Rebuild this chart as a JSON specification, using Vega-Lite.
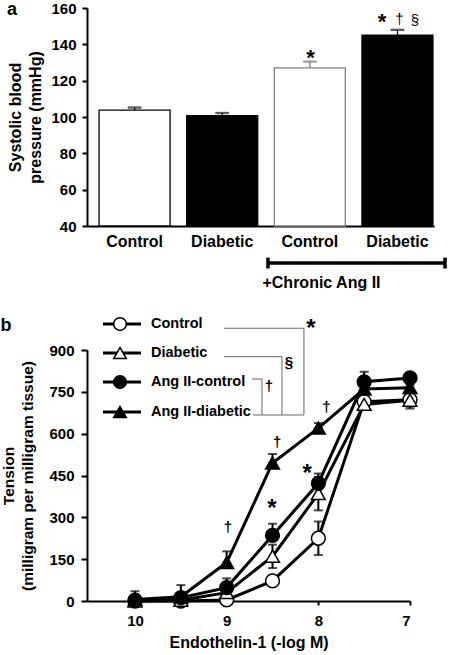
{
  "$schema": "https://vega.github.io/schema/vega-lite/v6.json",
  "padding": {"left": 0, "top": 0, "right": 2, "bottom": 2},
  "bounds": "flush",
  "spacing": 124,
  "config": {
    "font": "Liberation Sans",
    "view": {"stroke": null},
    "axis": {"domainColor": "black", "tickColor": "black", "labelColor": "black", "titleColor": "black", "grid": false, "labelFontWeight": "bold", "titleFontWeight": "bold", "domainWidth": 2, "tickWidth": 2, "labelOverlap": false}
  },
  "datasets": {
    "bars": [
      {"group": "Control", "treat": "Control", "value": 103.8, "hi": 105.2},
      {"group": "Diabetic", "treat": "Diabetic", "value": 100.8, "hi": 102.2},
      {"group": "Ang II Control", "treat": "Control", "value": 127, "hi": 130.5},
      {"group": "Ang II Diabetic", "treat": "Diabetic", "value": 145, "hi": 148}
    ],
    "starsA": [{"ax": 2.576, "value": 135.8, "t": "*"}, {"ax": 3.40, "value": 155.6, "t": "*"}],
    "smallA": [{"ax": 3.60, "value": 154, "t": "†"}, {"ax": 3.78, "value": 153.4, "t": "§"}],
    "bracketA": [
      {"x1": 2.086, "x2": 4.127, "value": 19.6, "value2": 19.6},
      {"x1": 2.086, "x2": 2.086, "value": 22.6, "value2": 16.6},
      {"x1": 4.127, "x2": 4.127, "value": 22.6, "value2": 16.6}
    ],
    "labelA": [{"ax": 2.703, "value": 8.6, "t": "+Chronic Ang II"}],
    "panelA": [{"ax": -0.865, "value": 158.9, "t": "a"}],
    "curves": [
      {"series": "Control", "x": 10, "y": 0, "lo": -3, "hi": 3},
      {"series": "Control", "x": 9.5, "y": 0, "lo": -3, "hi": 3},
      {"series": "Control", "x": 9, "y": 4, "lo": 1, "hi": 7},
      {"series": "Control", "x": 8.5, "y": 72, "lo": 64, "hi": 80},
      {"series": "Control", "x": 8, "y": 225, "lo": 165, "hi": 285},
      {"series": "Control", "x": 7.5, "y": 715, "lo": 700, "hi": 730},
      {"series": "Control", "x": 7, "y": 722, "lo": 697, "hi": 747},
      {"series": "Diabetic", "x": 10, "y": 0, "lo": -5, "hi": 5},
      {"series": "Diabetic", "x": 9.5, "y": 3, "lo": -2, "hi": 8},
      {"series": "Diabetic", "x": 9, "y": 30, "lo": 20, "hi": 40},
      {"series": "Diabetic", "x": 8.5, "y": 160, "lo": 118, "hi": 202},
      {"series": "Diabetic", "x": 8, "y": 385, "lo": 325, "hi": 445},
      {"series": "Diabetic", "x": 7.5, "y": 705, "lo": 690, "hi": 720},
      {"series": "Diabetic", "x": 7, "y": 720, "lo": 690, "hi": 750},
      {"series": "Ang II-diabetic", "x": 10, "y": 5, "lo": 5, "hi": 35},
      {"series": "Ang II-diabetic", "x": 9.5, "y": 15, "lo": 15, "hi": 57},
      {"series": "Ang II-diabetic", "x": 9, "y": 138, "lo": 138, "hi": 178},
      {"series": "Ang II-diabetic", "x": 8.5, "y": 495, "lo": 495, "hi": 527},
      {"series": "Ang II-diabetic", "x": 8, "y": 620, "lo": 620, "hi": 638},
      {"series": "Ang II-diabetic", "x": 7.5, "y": 760, "lo": 760, "hi": 775},
      {"series": "Ang II-diabetic", "x": 7, "y": 765, "lo": 765, "hi": 775},
      {"series": "Ang II-control", "x": 10, "y": 3, "lo": 3, "hi": 13},
      {"series": "Ang II-control", "x": 9.5, "y": 12, "lo": 12, "hi": 27},
      {"series": "Ang II-control", "x": 9, "y": 48, "lo": 48, "hi": 81},
      {"series": "Ang II-control", "x": 8.5, "y": 235, "lo": 235, "hi": 277},
      {"series": "Ang II-control", "x": 8, "y": 422, "lo": 422, "hi": 457},
      {"series": "Ang II-control", "x": 7.5, "y": 786, "lo": 786, "hi": 822},
      {"series": "Ang II-control", "x": 7, "y": 800, "lo": 800, "hi": 815}
    ],
    "legendB": [
      {"series": "Control", "ly": 993},
      {"series": "Diabetic", "ly": 889},
      {"series": "Ang II-control", "ly": 785},
      {"series": "Ang II-diabetic", "ly": 678}
    ],
    "bracketB": [
      {"x1": 9.03, "x2": 8.157, "y1": 978, "y2": 978},
      {"x1": 8.157, "x2": 8.157, "y1": 978, "y2": 667},
      {"x1": 9.03, "x2": 8.397, "y1": 876, "y2": 876},
      {"x1": 8.397, "x2": 8.397, "y1": 876, "y2": 667},
      {"x1": 8.724, "x2": 8.615, "y1": 796, "y2": 796},
      {"x1": 8.615, "x2": 8.615, "y1": 796, "y2": 667},
      {"x1": 8.713, "x2": 8.157, "y1": 667, "y2": 667}
    ],
    "starsB": [{"bx": 8.08, "by": 997, "t": "*"}, {"bx": 8.506, "by": 350, "t": "*"}, {"bx": 8.121, "by": 476, "t": "*"}],
    "smallB": [
      {"bx": 8.32, "by": 857, "t": "§"},
      {"bx": 8.539, "by": 771, "t": "†"},
      {"bx": 8.986, "by": 266, "t": "†"},
      {"bx": 8.448, "by": 571, "t": "†"},
      {"bx": 7.913, "by": 697, "t": "†"}
    ],
    "panelB": [{"bx": 11.408, "by": 986, "t": "b"}]
  },
  "vconcat": [
    {
      "width": 347,
      "height": 218,
      "resolve": {"scale": {"x": "independent"}},
      "encoding": {
        "y": {"field": "value", "type": "quantitative", "scale": {"domain": [40, 160], "zero": false, "nice": false},
          "axis": {"values": [40, 60, 80, 100, 120, 140, 160], "title": ["Systolic blood", "pressure (mmHg)"], "titleFontSize": 16, "titleLineHeight": 20, "titlePadding": 7, "labelFontSize": 15, "tickSize": 5, "labelPadding": 6}}
      },
      "layer": [
        {
          "data": {"name": "bars"},
          "encoding": {
            "x": {"field": "group", "type": "nominal", "sort": null,
              "scale": {"paddingInner": 0.19, "paddingOuter": 0.075, "align": 0.92},
              "axis": {"title": null, "labelExpr": "indexof(datum.value,'Control')>=0?'Control':'Diabetic'", "labelAngle": 0, "ticks": false, "labelFontSize": 16, "labelPadding": 7}},
            "stroke": {"field": "group", "type": "nominal", "scale": {"domain": ["Control", "Diabetic", "Ang II Control", "Ang II Diabetic"], "range": ["black", "#000000", "#808080", "#000"]}, "legend": null}
          },
          "layer": [
            {
              "mark": {"type": "bar", "strokeWidth": 1.3},
              "encoding": {
                "y2": {"datum": 40},
                "fill": {"field": "treat", "type": "nominal", "scale": {"domain": ["Control", "Diabetic"], "range": ["white", "black"]}, "legend": null}
              }
            },
            {
              "mark": {"type": "rule", "strokeWidth": 1.3},
              "encoding": {
                "y2": {"field": "hi"}
              }
            },
            {
              "mark": {"type": "tick", "orient": "horizontal", "size": 13, "thickness": 1.3},
              "encoding": {
                "y": {"field": "hi", "type": "quantitative", "scale": {"domain": [40, 160], "zero": false, "nice": false},
                  "axis": {"values": [40, 60, 80, 100, 120, 140, 160], "title": ["Systolic blood", "pressure (mmHg)"], "titleFontSize": 16, "titleLineHeight": 20, "titlePadding": 7, "labelFontSize": 15, "tickSize": 5, "labelPadding": 6}}
              }
            }
          ]
        },
        {
          "layer": [
            {
              "data": {"name": "starsA"},
              "mark": {"type": "text", "fontSize": 22, "fontWeight": "bold", "baseline": "middle", "dy": 6, "color": "black"},
              "encoding": {
                "x": {"field": "ax", "type": "quantitative", "scale": {"domain": [0, 4], "nice": false, "zero": false}, "axis": null},
                "text": {"field": "t"}
              }
            },
            {
              "data": {"name": "smallA"},
              "mark": {"type": "text", "fontSize": 15, "baseline": "middle", "color": "black"},
              "encoding": {
                "x": {"field": "ax", "type": "quantitative", "scale": {"domain": [0, 4], "nice": false, "zero": false}, "axis": null},
                "text": {"field": "t"}
              }
            },
            {
              "data": {"name": "bracketA"},
              "mark": {"type": "rule", "strokeWidth": 3.5, "color": "black"},
              "encoding": {
                "x": {"field": "x1", "type": "quantitative", "scale": {"domain": [0, 4], "nice": false, "zero": false}, "axis": null},
                "x2": {"field": "x2"},
                "y2": {"field": "value2"}
              }
            },
            {
              "data": {"name": "labelA"},
              "mark": {"type": "text", "fontSize": 16, "fontWeight": "bold", "baseline": "middle", "color": "black"},
              "encoding": {
                "x": {"field": "ax", "type": "quantitative", "scale": {"domain": [0, 4], "nice": false, "zero": false}, "axis": null},
                "text": {"field": "t"}
              }
            },
            {
              "data": {"name": "panelA"},
              "mark": {"type": "text", "fontSize": 18, "fontWeight": "bold", "baseline": "middle", "color": "black"},
              "encoding": {
                "x": {"field": "ax", "type": "quantitative", "scale": {"domain": [0, 4], "nice": false, "zero": false}, "axis": null},
                "text": {"field": "t"}
              }
            }
          ]
        }
      ]
    },
    {
      "width": 323,
      "height": 251,
      "layer": [
        {
          "data": {"name": "curves"},
          "mark": {"type": "rule", "strokeWidth": 2, "color": "black"},
          "encoding": {
            "x": {"field": "x", "type": "quantitative", "scale": {"domain": [7, 10.524], "reverse": true, "nice": false, "zero": false},
              "axis": {"values": [10, 9, 8, 7], "format": "d", "title": "Endothelin-1 (-log M)", "titleFontSize": 16, "labelFontSize": 15, "tickSize": 4, "labelPadding": 8, "titlePadding": 6}},
            "y": {"field": "lo", "type": "quantitative", "scale": {"domain": [0, 900], "nice": false},
              "axis": {"values": [0, 150, 300, 450, 600, 750, 900], "title": ["Tension", "(milligram per milligram tissue)"], "titleFontSize": 15.5, "titleLineHeight": 19, "titlePadding": 13, "labelFontSize": 15, "tickSize": 6, "labelPadding": 7}},
            "y2": {"field": "hi"}
          }
        },
        {
          "data": {"name": "curves"},
          "mark": {"type": "tick", "orient": "horizontal", "size": 9, "thickness": 2, "color": "black"},
          "encoding": {
            "x": {"field": "x", "type": "quantitative", "scale": {"domain": [7, 10.524], "reverse": true, "nice": false, "zero": false}},
            "y": {"field": "hi", "type": "quantitative", "scale": {"domain": [0, 900], "nice": false}}
          }
        },
        {
          "data": {"name": "curves"},
          "mark": {"type": "tick", "orient": "horizontal", "size": 9, "thickness": 2, "color": "black"},
          "encoding": {
            "x": {"field": "x", "type": "quantitative", "scale": {"domain": [7, 10.524], "reverse": true, "nice": false, "zero": false}},
            "y": {"field": "lo", "type": "quantitative", "scale": {"domain": [0, 900], "nice": false}}
          }
        },
        {
          "data": {"name": "curves"},
          "mark": {"type": "line", "strokeWidth": 3, "color": "black"},
          "encoding": {
            "x": {"field": "x", "type": "quantitative", "scale": {"domain": [7, 10.524], "reverse": true, "nice": false, "zero": false}},
            "y": {"field": "y", "type": "quantitative", "scale": {"domain": [0, 900], "nice": false}},
            "detail": {"field": "series"}
          }
        },
        {
          "data": {"name": "curves"},
          "transform": [{"filter": "datum.series === 'Control'"}],
          "mark": {"type": "point", "shape": "circle", "filled": true, "fill": "white", "size": 190, "stroke": "black", "strokeWidth": 1.5, "opacity": 1},
          "encoding": {
            "x": {"field": "x", "type": "quantitative", "scale": {"domain": [7, 10.524], "reverse": true, "nice": false, "zero": false}},
            "y": {"field": "y", "type": "quantitative", "scale": {"domain": [0, 900], "nice": false}}
          }
        },
        {
          "data": {"name": "curves"},
          "transform": [{"filter": "datum.series === 'Diabetic'"}],
          "mark": {"type": "point", "shape": "triangle-up", "filled": true, "fill": "white", "size": 190, "stroke": "black", "strokeWidth": 1.5, "opacity": 1},
          "encoding": {
            "x": {"field": "x", "type": "quantitative", "scale": {"domain": [7, 10.524], "reverse": true, "nice": false, "zero": false}},
            "y": {"field": "y", "type": "quantitative", "scale": {"domain": [0, 900], "nice": false}}
          }
        },
        {
          "data": {"name": "curves"},
          "transform": [{"filter": "datum.series === 'Ang II-diabetic'"}],
          "mark": {"type": "point", "shape": "triangle-up", "filled": true, "fill": "black", "size": 190, "stroke": "black", "strokeWidth": 1.5, "opacity": 1},
          "encoding": {
            "x": {"field": "x", "type": "quantitative", "scale": {"domain": [7, 10.524], "reverse": true, "nice": false, "zero": false}},
            "y": {"field": "y", "type": "quantitative", "scale": {"domain": [0, 900], "nice": false}}
          }
        },
        {
          "data": {"name": "curves"},
          "transform": [{"filter": "datum.series === 'Ang II-control'"}],
          "mark": {"type": "point", "shape": "circle", "filled": true, "fill": "black", "size": 190, "stroke": "black", "strokeWidth": 1.5, "opacity": 1},
          "encoding": {
            "x": {"field": "x", "type": "quantitative", "scale": {"domain": [7, 10.524], "reverse": true, "nice": false, "zero": false}},
            "y": {"field": "y", "type": "quantitative", "scale": {"domain": [0, 900], "nice": false}}
          }
        },
        {
          "data": {"name": "legendB"},
          "mark": {"type": "rule", "strokeWidth": 3, "color": "black"},
          "encoding": {
            "x": {"datum": 10.35, "type": "quantitative", "scale": {"domain": [7, 10.524], "reverse": true, "nice": false, "zero": false}},
            "x2": {"datum": 9.935},
            "y": {"field": "ly", "type": "quantitative", "scale": {"domain": [0, 900], "nice": false}}
          }
        },
        {
          "data": {"name": "legendB"},
          "transform": [{"filter": "datum.series === 'Control'"}],
          "mark": {"type": "point", "shape": "circle", "filled": true, "fill": "white", "size": 160, "stroke": "black", "strokeWidth": 1.5, "opacity": 1},
          "encoding": {
            "x": {"datum": 10.164, "type": "quantitative", "scale": {"domain": [7, 10.524], "reverse": true, "nice": false, "zero": false}},
            "y": {"field": "ly", "type": "quantitative", "scale": {"domain": [0, 900], "nice": false}}
          }
        },
        {
          "data": {"name": "legendB"},
          "transform": [{"filter": "datum.series === 'Diabetic'"}],
          "mark": {"type": "point", "shape": "triangle-up", "filled": true, "fill": "white", "size": 160, "stroke": "black", "strokeWidth": 1.5, "opacity": 1},
          "encoding": {
            "x": {"datum": 10.164, "type": "quantitative", "scale": {"domain": [7, 10.524], "reverse": true, "nice": false, "zero": false}},
            "y": {"field": "ly", "type": "quantitative", "scale": {"domain": [0, 900], "nice": false}}
          }
        },
        {
          "data": {"name": "legendB"},
          "transform": [{"filter": "datum.series === 'Ang II-control'"}],
          "mark": {"type": "point", "shape": "circle", "filled": true, "fill": "black", "size": 160, "stroke": "black", "strokeWidth": 1.5, "opacity": 1},
          "encoding": {
            "x": {"datum": 10.164, "type": "quantitative", "scale": {"domain": [7, 10.524], "reverse": true, "nice": false, "zero": false}},
            "y": {"field": "ly", "type": "quantitative", "scale": {"domain": [0, 900], "nice": false}}
          }
        },
        {
          "data": {"name": "legendB"},
          "transform": [{"filter": "datum.series === 'Ang II-diabetic'"}],
          "mark": {"type": "point", "shape": "triangle-up", "filled": true, "fill": "black", "size": 160, "stroke": "black", "strokeWidth": 1.5, "opacity": 1},
          "encoding": {
            "x": {"datum": 10.164, "type": "quantitative", "scale": {"domain": [7, 10.524], "reverse": true, "nice": false, "zero": false}},
            "y": {"field": "ly", "type": "quantitative", "scale": {"domain": [0, 900], "nice": false}}
          }
        },
        {
          "data": {"name": "legendB"},
          "mark": {"type": "text", "fontSize": 14.5, "fontWeight": "bold", "align": "left", "baseline": "middle", "color": "black"},
          "encoding": {
            "x": {"datum": 9.826, "type": "quantitative", "scale": {"domain": [7, 10.524], "reverse": true, "nice": false, "zero": false}},
            "y": {"field": "ly", "type": "quantitative", "scale": {"domain": [0, 900], "nice": false}},
            "text": {"field": "series"}
          }
        },
        {
          "data": {"name": "bracketB"},
          "mark": {"type": "rule", "strokeWidth": 1, "color": "#666666"},
          "encoding": {
            "x": {"field": "x1", "type": "quantitative", "scale": {"domain": [7, 10.524], "reverse": true, "nice": false, "zero": false}},
            "x2": {"field": "x2"},
            "y": {"field": "y1", "type": "quantitative", "scale": {"domain": [0, 900], "nice": false}},
            "y2": {"field": "y2"}
          }
        },
        {
          "data": {"name": "starsB"},
          "mark": {"type": "text", "fontSize": 24, "fontWeight": "bold", "baseline": "middle", "dy": 6, "color": "black"},
          "encoding": {
            "x": {"field": "bx", "type": "quantitative", "scale": {"domain": [7, 10.524], "reverse": true, "nice": false, "zero": false}},
            "y": {"field": "by", "type": "quantitative", "scale": {"domain": [0, 900], "nice": false}},
            "text": {"field": "t"}
          }
        },
        {
          "data": {"name": "smallB"},
          "mark": {"type": "text", "fontSize": 15, "fontWeight": "bold", "baseline": "middle", "color": "black"},
          "encoding": {
            "x": {"field": "bx", "type": "quantitative", "scale": {"domain": [7, 10.524], "reverse": true, "nice": false, "zero": false}},
            "y": {"field": "by", "type": "quantitative", "scale": {"domain": [0, 900], "nice": false}},
            "text": {"field": "t"}
          }
        },
        {
          "data": {"name": "panelB"},
          "mark": {"type": "text", "fontSize": 18, "fontWeight": "bold", "baseline": "middle", "color": "black"},
          "encoding": {
            "x": {"field": "bx", "type": "quantitative", "scale": {"domain": [7, 10.524], "reverse": true, "nice": false, "zero": false}},
            "y": {"field": "by", "type": "quantitative", "scale": {"domain": [0, 900], "nice": false}},
            "text": {"field": "t"}
          }
        }
      ]
    }
  ]
}
